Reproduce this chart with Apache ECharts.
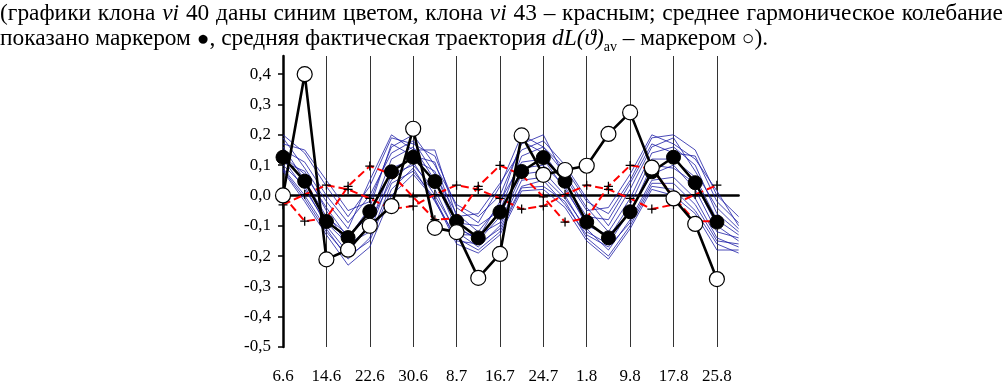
<!DOCTYPE html>
<html><head><meta charset="utf-8">
<script src="https://cdn.jsdelivr.net/npm/echarts@6/dist/echarts.min.js"></script>
<style>
html,body{margin:0;padding:0;background:#fff;}
#chart{position:absolute;left:0;top:0;width:1003px;height:385px;}
#cap{position:absolute;left:0;top:0;width:1003px;font-family:"Liberation Serif",serif;font-size:23.4px;line-height:25px;color:#000;}
#l1{text-align:justify;text-align-last:justify;}
.m{font-size:21px;line-height:0;}
sub{font-size:14px;line-height:0;}
</style>
</head><body>
<div id="chart"></div>
<div id="cap"><div id="l1">(графики клона <i>vi</i> 40 даны синим цветом, клона <i>vi</i> 43 – красным; среднее гармоническое колебание</div><div>показано маркером <span class="m">●</span>, средняя фактическая траектория <i>dL(ϑ)</i><sub>av</sub> – маркером <span class="m">○</span>).</div></div>
<script>
const categories = ['6.6','10.6','14.6','18.6','22.6','26.6','30.6','4.7','8.7','12.7','16.7','20.7','24.7','28.7','1.8','5.8','9.8','13.8','17.8','21.8','25.8','29.8'];
const yTicks = [-0.5,-0.4,-0.3,-0.2,-0.1,0,0.1,0.2,0.3,0.4];

const harmonicMean = [0.126,0.047,-0.086,-0.139,-0.053,0.078,0.126,0.046,-0.086,-0.14,-0.055,0.079,0.125,0.047,-0.088,-0.14,-0.054,0.078,0.126,0.042,-0.088];
const actualMean = [0.0,0.40,-0.211,-0.179,-0.10,-0.035,0.22,-0.107,-0.121,-0.272,-0.193,0.198,0.068,0.084,0.098,0.203,0.274,0.092,-0.01,-0.094,-0.276];

const cloneRedA = [-0.031,0.003,0.034,0.02,-0.01,-0.045,-0.035,0.003,0.034,0.02,-0.01,-0.045,-0.035,0.003,0.034,0.02,-0.01,-0.045,-0.03,0.003,0.034];
const cloneRedB = [0.0,-0.085,-0.075,0.03,0.097,0.07,-0.005,-0.08,-0.075,0.03,0.099,0.068,-0.005,-0.088,-0.075,0.03,0.099,0.088,-0.005,-0.085,-0.085];

const blue1 = [0.20,0.14,0.03,-0.07,0.03,0.19,0.17,0.13,-0.04,-0.09,0.03,0.20,0.16,0.09,-0.02,-0.06,0.05,0.19,0.20,0.15,0.00,-0.07];
const blue2 = [0.17,0.15,0.05,-0.05,-0.02,0.16,0.20,0.10,-0.03,-0.07,0.00,0.17,0.20,0.06,-0.05,-0.04,0.07,0.20,0.17,0.12,0.015,-0.10];
const blue3 = [0.19,0.09,-0.02,-0.11,0.05,0.20,0.15,0.15,-0.07,-0.06,0.04,0.15,0.18,0.10,-0.01,-0.10,0.02,0.16,0.19,0.08,-0.04,-0.11];
const blue4 = [0.15,0.11,0.00,-0.09,0.00,0.14,0.18,0.07,-0.06,-0.12,-0.03,0.18,0.14,0.04,-0.07,-0.08,0.04,0.17,0.14,0.13,-0.02,-0.09];
const blue5 = [0.13,0.07,-0.04,-0.14,-0.04,0.17,0.13,0.11,-0.09,-0.10,-0.05,0.13,0.16,0.07,-0.04,-0.12,-0.01,0.14,0.16,0.10,-0.06,-0.12];
const blue6 = [0.16,0.05,-0.07,-0.13,-0.07,0.12,0.16,0.05,-0.11,-0.14,-0.02,0.11,0.12,0.02,-0.09,-0.14,-0.03,0.12,0.12,0.06,-0.08,-0.13];
const blue7 = [0.11,0.08,-0.05,-0.17,-0.10,0.09,0.12,0.08,-0.10,-0.15,-0.07,0.09,0.10,0.03,-0.10,-0.13,-0.06,0.10,0.09,0.04,-0.10,-0.15];
const blue8 = [0.12,0.02,-0.09,-0.16,-0.12,0.07,0.10,0.02,-0.13,-0.13,-0.09,0.07,0.08,0.00,-0.12,-0.16,-0.05,0.07,0.10,0.02,-0.12,-0.14];
const blue9 = [0.10,0.03,-0.10,-0.19,-0.09,0.05,0.11,0.00,-0.12,-0.17,-0.10,0.05,0.06,-0.01,-0.11,-0.18,-0.08,0.05,0.06,-0.01,-0.14,-0.17];
const blue10 = [0.09,0.00,-0.11,-0.21,-0.14,0.04,0.08,-0.01,-0.15,-0.16,-0.11,0.03,0.05,-0.03,-0.13,-0.17,-0.09,0.04,0.04,-0.03,-0.15,-0.16];
const blue11 = [0.085,-0.01,-0.12,-0.20,-0.15,0.02,0.09,-0.02,-0.14,-0.18,-0.12,0.025,0.03,-0.02,-0.14,-0.20,-0.10,0.03,0.02,-0.05,-0.16,-0.19];
const blue12 = [0.08,-0.02,-0.13,-0.23,-0.17,0.00,0.07,-0.015,-0.16,-0.19,-0.13,0.015,0.02,-0.04,-0.15,-0.21,-0.11,0.02,0.00,-0.06,-0.18,-0.18];
const blueLines = [blue1,blue2,blue3,blue4,blue5,blue6,blue7,blue8,blue9,blue10,blue11,blue12];

const FONT = '"Liberation Serif", "Times New Roman", serif';
const plusSymbol = 'path://M4.3,0H5.7V4.3H10V5.7H5.7V10H4.3V5.7H0V4.3H4.3Z';

const chart = echarts.init(document.getElementById('chart'), null, {renderer:'canvas'});
const series = [];
blueLines.forEach(d => series.push({
  type:'line', data:d, symbol:'none', silent:true, z:1,
  lineStyle:{color:'#1d1da6', width:0.8}
}));
[cloneRedA, cloneRedB].forEach(d => series.push({
  type:'line', data:d, symbol:plusSymbol, symbolSize:9, z:3, showAllSymbol:true,
  itemStyle:{color:'#000'},
  lineStyle:{color:'#ff0000', width:2, type:[8,4]}
}));
series.push({
  type:'line', data:harmonicMean, symbol:'circle', symbolSize:14, z:5, showAllSymbol:true,
  itemStyle:{color:'#000', borderColor:'#000', borderWidth:1},
  lineStyle:{color:'#000', width:2.6}
});
series.push({
  type:'line', data:actualMean, symbol:'circle', symbolSize:15, z:6, showAllSymbol:true,
  itemStyle:{color:'#fff', borderColor:'#000', borderWidth:1.2},
  lineStyle:{color:'#000', width:2.6}
});

chart.setOption({
  animation:false,
  grid:{left:283, top:56, width:455.6, height:296},
  xAxis:[{
    type:'category', data:categories, boundaryGap:false, position:'bottom',
    axisLine:{show:false, onZero:false}, axisTick:{show:false},
    axisLabel:{interval:1, margin:21, fontFamily:FONT, fontSize:17, color:'#000'},
    splitLine:{show:true, interval:1, lineStyle:{color:'#333', width:1}}
  },{
    type:'category', data:categories, boundaryGap:false, position:'top',
    axisLine:{show:true, onZero:true, lineStyle:{color:'#000', width:2.5}},
    axisTick:{show:false}, axisLabel:{show:false}, splitLine:{show:false}
  }],
  yAxis:{
    type:'value', min:-0.5, max:0.46,
    axisLine:{show:true, onZero:false, lineStyle:{color:'#000', width:2.5}},
    axisTick:{show:true, length:5, customValues:yTicks, lineStyle:{color:'#000', width:1.5}},
    axisLabel:{customValues:yTicks, margin:12, fontFamily:FONT, fontSize:17, color:'#000',
      formatter: v => (Math.round(v*10)/10).toFixed(1).replace('.', ',')},
    splitLine:{show:false}
  },
  series: series
});
</script>
</body></html>
